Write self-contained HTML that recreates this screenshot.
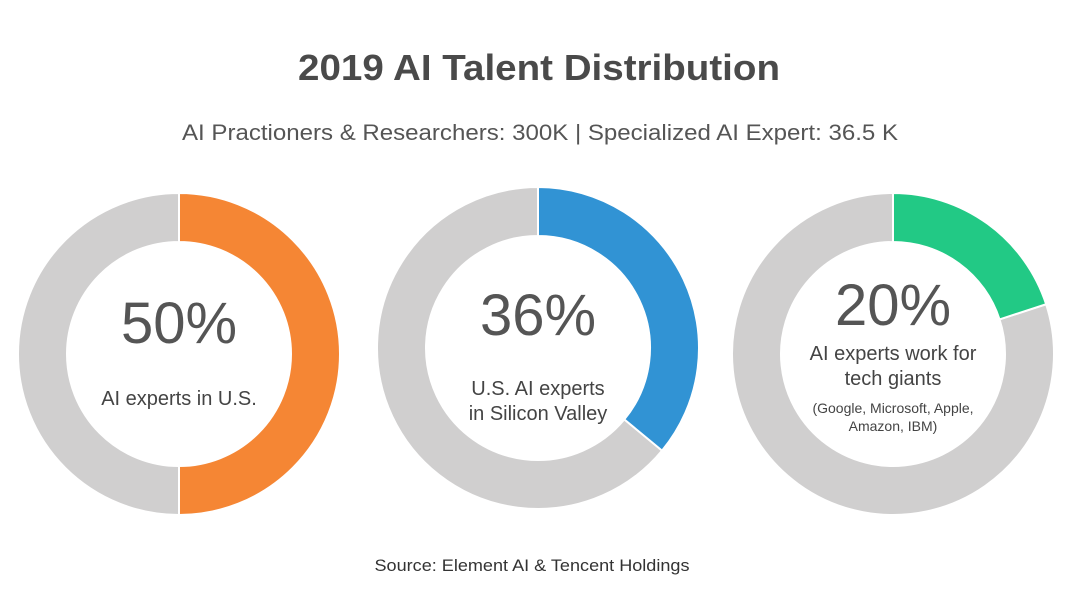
<!DOCTYPE html>
<html><head><meta charset="utf-8"><style>
body{margin:0;background:#fff;width:1080px;height:611px;overflow:hidden;font-family:"Liberation Sans",sans-serif;}
svg{display:block}
</style></head><body>
<svg id="chart" width="1080" height="611">
<text x="539" y="80" text-anchor="middle" font-size="36" font-weight="bold" fill="#4a4a4a" textLength="482" lengthAdjust="spacingAndGlyphs">2019 AI Talent Distribution</text>
<text x="540" y="140" text-anchor="middle" font-size="22" fill="#555" textLength="716" lengthAdjust="spacingAndGlyphs">AI Practioners &amp; Researchers: 300K | Specialized AI Expert: 36.5 K</text>
<text x="532" y="571" text-anchor="middle" font-size="17" fill="#333" textLength="315" lengthAdjust="spacingAndGlyphs">Source: Element AI &amp; Tencent Holdings</text>
<g id="donuts"></g>
</svg>
<script>
const percents = [50, 36, 20];
const colors = ['#f58634', '#3193d4', '#22c985'];
const labels = [['AI experts in U.S.'], ['U.S. AI experts', 'in Silicon Valley'], ['AI experts work for', 'tech giants']];
const notes = [[], [], ['(Google, Microsoft, Apple,', 'Amazon, IBM)']];
const centers = [[179, 354], [538, 348], [893, 354]];
const pctY = [343, 335, 325];
const capY = [405, 395, 360];
const noteY = 413;
const R = 161, r = 112;
const NS = 'http://www.w3.org/2000/svg';
const g = document.getElementById('donuts');
function pt(cx, cy, rad, p) { const a = p / 100 * 2 * Math.PI; return [cx + rad * Math.sin(a), cy - rad * Math.cos(a)]; }
function arc(cx, cy, p0, p1) {
  const [x0, y0] = pt(cx, cy, R, p0), [x1, y1] = pt(cx, cy, R, p1);
  const [x2, y2] = pt(cx, cy, r, p1), [x3, y3] = pt(cx, cy, r, p0);
  const large = (p1 - p0) > 50 ? 1 : 0;
  return `M${x0},${y0} A${R},${R} 0 ${large} 1 ${x1},${y1} L${x2},${y2} A${r},${r} 0 ${large} 0 ${x3},${y3} Z`;
}
percents.forEach((v, i) => {
  const [cx, cy] = centers[i];
  const bg = document.createElementNS(NS, 'path');
  bg.setAttribute('d', arc(cx, cy, v, 100));
  bg.setAttribute('fill', '#d0cfcf');
  bg.setAttribute('stroke', '#fff'); bg.setAttribute('stroke-width', '2');
  
  
  g.appendChild(bg);
  const fg = document.createElementNS(NS, 'path');
  fg.setAttribute('d', arc(cx, cy, 0, v));
  fg.setAttribute('fill', colors[i]);
  fg.setAttribute('stroke', '#fff'); fg.setAttribute('stroke-width', '2');
  
  
  g.appendChild(fg);
  const t = document.createElementNS(NS, 'text');
  t.setAttribute('x', cx); t.setAttribute('y', pctY[i]);
  t.setAttribute('text-anchor', 'middle'); t.setAttribute('font-size', '58'); t.setAttribute('fill', '#555');
  t.textContent = v + '%';
  
  
  g.appendChild(t);
  let y = capY[i];
  labels[i].forEach(s => {
    const l = document.createElementNS(NS, 'text');
    l.setAttribute('x', cx); l.setAttribute('y', y);
    l.setAttribute('text-anchor', 'middle'); l.setAttribute('font-size', '20'); l.setAttribute('fill', '#444');
    l.textContent = s;
    
    
    g.appendChild(l); y += 25;
  });
  y = noteY;
  notes[i].forEach(s => {
    const l = document.createElementNS(NS, 'text');
    l.setAttribute('x', cx); l.setAttribute('y', y);
    l.setAttribute('text-anchor', 'middle'); l.setAttribute('font-size', '14'); l.setAttribute('fill', '#444');
    l.textContent = s;
    
    
    g.appendChild(l); y += 18;
  });
});
</script>
</body></html>
